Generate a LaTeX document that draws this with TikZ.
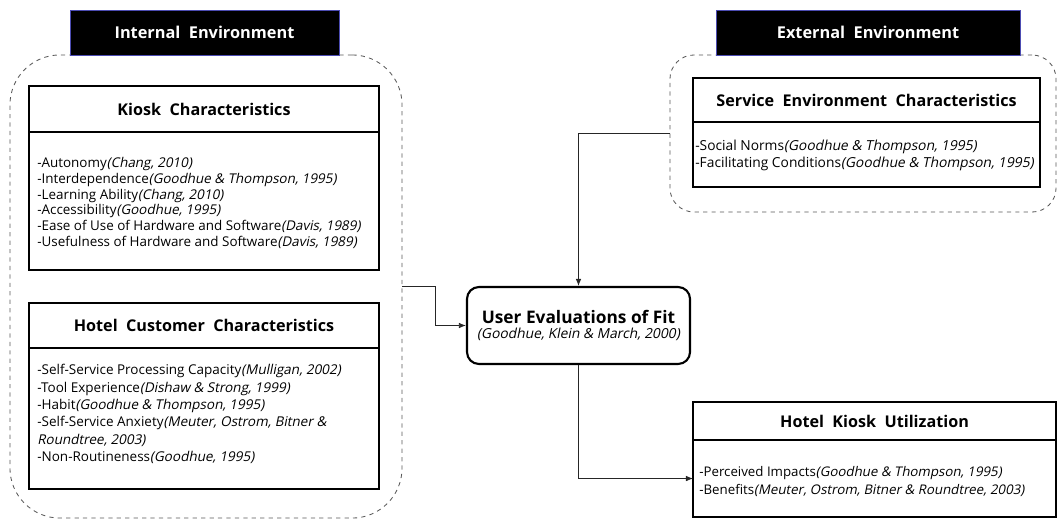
\documentclass[tikz,border=0pt]{standalone}
\usepackage{fontspec}
\setmainfont{Open Sans}[ItalicFont=Open Sans, ItalicFeatures={FakeSlant=0.2}]
\usetikzlibrary{positioning}
\usetikzlibrary{arrows.meta}
\newcommand{\src}[1]{\textit{(#1)}}
\tikzset{
    envlabel/.style = {rectangle, fill=black, draw=gray!60!blue, text=white, inner sep=0pt, outer sep=0pt, minimum height=1.125cm, font=\bfseries\fontsize{11.6}{13}\selectfont},
    envbox/.style = {rectangle, dashed, draw=gray!70!black, line width=0.6pt, inner sep=0pt},
    headbox/.style = {rectangle, draw=black, line width=1.5pt, inner sep=0pt, outer sep=0pt, anchor=north west, font=\bfseries\fontsize{11.5}{14}\selectfont},
    listbox/.style = {rectangle, draw=black, line width=1pt, inner sep=0pt, outer sep=0pt},
    listtext/.style = {align=left, inner sep=0pt, anchor=north west, font=\fontsize{9.55}{11.3}\selectfont},
    fitbox/.style = {rectangle, rounded corners=0.3cm, draw=black, line width=1.5pt, align=center, inner sep=0pt},
    edgen/.style = {-{Latex[length=5pt,width=4pt]}, line width=0.6pt, draw=black!85}
}
\begin{document}
\begin{tikzpicture}[x=0.025cm, y=-0.025cm]
\useasboundingbox (0,0) rectangle (1058,520);
%
% environments
\node[envbox, rounded corners=1.25cm, minimum width=9.8cm, minimum height=11.575cm] at (206,286.5) (intenv) {};
\node[envbox, rounded corners=0.6cm, minimum width=9.65cm, minimum height=3.925cm] at (863,133.5) (extenv) {};
\node[envlabel, minimum width=6.725cm] at (204.5,32.5) (intlabel) {Internal\ \ Environment};
\node[envlabel, minimum width=7.6cm] at (868,32.5) (extlabel) {External\ \ Environment};
%
% internal
\node[headbox, minimum width=8.75cm, minimum height=1.15cm] at (29,86) (kiosk) {Kiosk\ \ Characteristics};
\node[listbox, below=0pt of kiosk, minimum width=8.75cm, minimum height=3.45cm] (kiosklist) {};
\node[listtext] at ([xshift=0.2cm,yshift=-0.62cm]kiosklist.north west) (kiosktext) {%
-Autonomy\src{Chang, 2010}\\
-Interdependence\src{Goodhue \& Thompson, 1995}\\
-Learning Ability\src{Chang, 2010}\\
-Accessibility\src{Goodhue, 1995}\\
-Ease of Use of Hardware and Software\src{Davis, 1989}\\
-Usefulness of Hardware and Software\src{Davis, 1989}};
%
\node[headbox, minimum width=8.75cm, minimum height=1.125cm] at (29,303) (customer) {Hotel\ \ Customer\ \ Characteristics};
\node[listbox, below=0pt of customer, minimum width=8.75cm, minimum height=3.525cm] (customerlist) {};
\node[listtext, font=\fontsize{9.6}{12.4}\selectfont] at ([xshift=0.2cm,yshift=-0.4cm]customerlist.north west) (customertext) {%
-Self-Service Processing Capacity\src{Mulligan, 2002}\\
-Tool Experience\src{Dishaw \& Strong, 1999}\\
-Habit\src{Goodhue \& Thompson, 1995}\\
-Self-Service Anxiety\textit{(Meuter, Ostrom, Bitner \&}\\
\textit{Roundtree, 2003)}\\
-Non-Routineness\src{Goodhue, 1995}};
%
% external
\node[headbox, minimum width=8.675cm, minimum height=1.1cm] at (693,78) (service) {Service\ \ Environment\ \ Characteristics};
\node[listbox, below=0pt of service, minimum width=8.675cm, minimum height=1.625cm] (servicelist) {};
\node[listtext, font=\fontsize{9.8}{12}\selectfont] at ([xshift=0.05cm,yshift=-0.45cm]servicelist.north west) (servicetext) {%
-Social Norms\src{Goodhue \& Thompson, 1995}\\
-Facilitating Conditions\src{Goodhue \& Thompson, 1995}};
%
% fit and utilization
\node[fitbox, minimum width=5.575cm, minimum height=1.925cm] at (578.5,325.5) (fit) {%
{\bfseries\fontsize{12.3}{14}\selectfont User\ Evaluations\ of\ Fit}\\[-1pt]
{\itshape\fontsize{9.8}{11}\selectfont (Goodhue, Klein \& March, 2000)}};
\node[headbox, minimum width=9.075cm, minimum height=0.95cm] at (693,402) (usage) {Hotel\ \ Kiosk\ \ Utilization};
\node[listbox, below=0pt of usage, minimum width=9.075cm, minimum height=1.925cm] (usagelist) {};
\node[listtext, font=\fontsize{9.45}{12.8}\selectfont] at ([xshift=0.15cm,yshift=-0.65cm]usagelist.north west) (usagetext) {%
-Perceived Impacts\src{Goodhue \& Thompson, 1995}\\
-Benefits\src{Meuter, Ostrom, Bitner \& Roundtree, 2003}};
%
\draw[edgen] (intenv.east) -- ++(33,0) |- (fit.west);
\draw[edgen] (extenv.west) -| (fit.north);
\draw[edgen] (fit.south) |- (usagelist.west);
\end{tikzpicture}
\end{document}
